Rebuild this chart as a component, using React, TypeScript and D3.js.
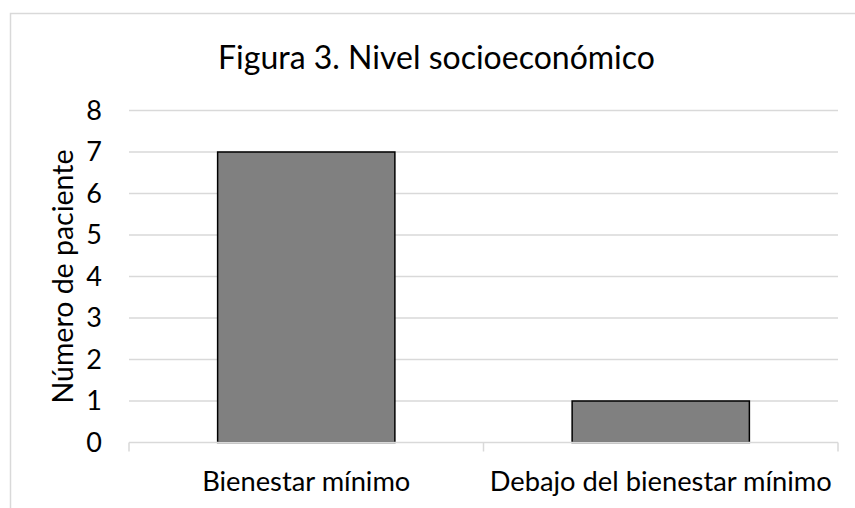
import React from 'react';
import * as d3 from 'd3';

const categories = ['Bienestar mínimo', 'Debajo del bienestar mínimo'];
const values = [7, 1];
const yTicks = [0, 1, 2, 3, 4, 5, 6, 7, 8];

const title = 'Figura 3. Nivel socioeconómico';
const yLabel = 'Número de paciente';

const W = 855;
const H = 508;
const FONT = 'Lato, "Open Sans", sans-serif';

const App = () => {
    const svgRef = React.useRef<SVGSVGElement>(null);

    const margin = { top: 110.5, right: 17, bottom: 65.5, left: 129 };

    React.useEffect(() => {
        const svg = d3.select(svgRef.current);
        svg.selectAll('*').remove();

        const width = W - margin.left - margin.right;
        const height = H - margin.top - margin.bottom;

        // chart area border
        svg.append('rect')
            .attr('x', 10.5)
            .attr('y', 13.5)
            .attr('width', W + 20)
            .attr('height', H + 20)
            .attr('fill', 'white')
            .attr('stroke', '#d9d9d9')
            .attr('stroke-width', 1.5);

        const g = svg.append('g')
            .attr('transform', `translate(${margin.left},${margin.top})`);

        const x = d3.scaleBand()
            .domain(categories)
            .range([0, width])
            .paddingInner(0.5)
            .paddingOuter(0.25);

        const y = d3.scaleLinear()
            .domain([0, 8])
            .range([height, 0]);

        // gridlines
        g.append('g')
            .selectAll('line')
            .data(yTicks.filter(d => d > 0))
            .enter()
            .append('line')
            .attr('x1', 0)
            .attr('x2', width)
            .attr('y1', d => y(d))
            .attr('y2', d => y(d))
            .attr('stroke', '#d9d9d9')
            .attr('stroke-width', 1.5);

        // bars
        g.append('g')
            .selectAll('rect')
            .data(values)
            .enter()
            .append('rect')
            .attr('x', (d, i) => x(categories[i])!)
            .attr('y', d => y(d))
            .attr('width', x.bandwidth())
            .attr('height', d => height - y(d))
            .attr('fill', '#808080')
            .attr('stroke', 'black')
            .attr('stroke-width', 1.5);

        // x axis line + category separators
        g.append('line')
            .attr('x1', 0)
            .attr('x2', width)
            .attr('y1', height)
            .attr('y2', height)
            .attr('stroke', '#d9d9d9')
            .attr('stroke-width', 1.5);

        const step = width / categories.length;
        g.append('g')
            .selectAll('line')
            .data(d3.range(categories.length + 1))
            .enter()
            .append('line')
            .attr('x1', d => d * step)
            .attr('x2', d => d * step)
            .attr('y1', height)
            .attr('y2', height + 9)
            .attr('stroke', '#d9d9d9')
            .attr('stroke-width', 1.5);

        // y tick labels
        g.append('g')
            .selectAll('text')
            .data(yTicks)
            .enter()
            .append('text')
            .attr('x', -27)
            .attr('y', d => y(d))
            .attr('dy', '0.35em')
            .attr('text-anchor', 'end')
            .style('font-family', FONT)
            .style('font-size', '27px')
            .attr('fill', 'black')
            .text(d => d);

        // category labels
        g.append('g')
            .selectAll('text')
            .data(categories)
            .enter()
            .append('text')
            .attr('x', d => x(d)! + x.bandwidth() / 2)
            .attr('y', height + 48.5)
            .attr('text-anchor', 'middle')
            .style('font-family', FONT)
            .style('font-size', '27.3px')
            .attr('fill', 'black')
            .text(d => d);

        // title
        svg.append('text')
            .attr('x', 436.5)
            .attr('y', 69)
            .attr('text-anchor', 'middle')
            .style('font-family', FONT)
            .style('font-size', '32px')
            .attr('fill', 'black')
            .text(title);

        // y axis title
        svg.append('text')
            .attr('transform', `translate(73,${margin.top + height / 2}) rotate(-90)`)
            .attr('text-anchor', 'middle')
            .style('font-family', FONT)
            .style('font-size', '28.5px')
            .attr('fill', 'black')
            .text(yLabel);

    // eslint-disable-next-line react-hooks/exhaustive-deps
    }, []);

    return (
        <svg
            ref={svgRef}
            width={W}
            height={H}
            style={{ position: 'absolute', left: 0, top: 0, background: 'white' }}
        />
    );
};

export default App;
